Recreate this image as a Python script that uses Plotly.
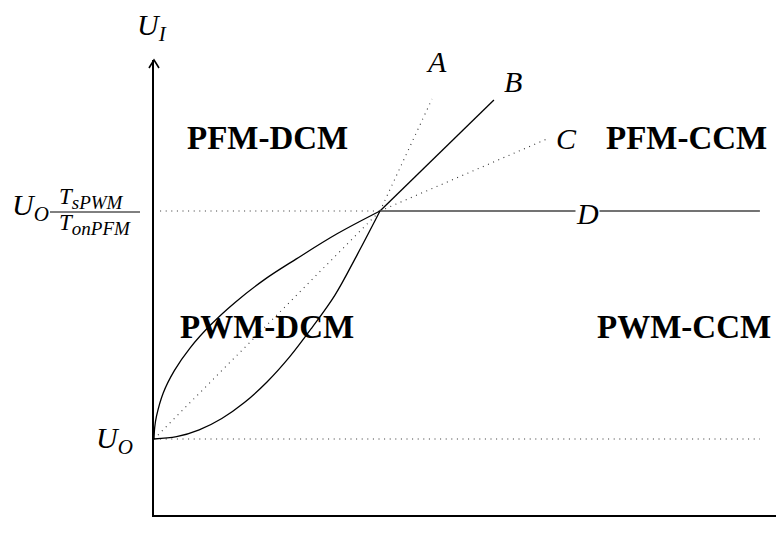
import plotly.graph_objects as go

# Operating-mode boundaries in the (duty / load, U_I) plane.
# x is normalised so the common crossing point sits at x = 1;
# y is normalised so U_O = 1 and U_O * T_sPWM / T_onPFM = 2.
U_O_LEVEL = 1.0
U_MID_LEVEL = 2.0
CROSS_X = 1.0

# PWM-DCM upper boundary (root-like rise from U_O)
upper_x = [0.0, 0.003, 0.011, 0.04, 0.09, 0.16, 0.25, 0.36, 0.49, 0.63, 0.81, 1.0]
upper_y = [1.0, 1.05, 1.10, 1.20, 1.30, 1.40, 1.50, 1.60, 1.70, 1.79, 1.90, 2.0]

# PWM-DCM lower boundary (square-like rise from U_O)
lower_x = [0.0, 0.1, 0.2, 0.3, 0.4, 0.5, 0.6, 0.7, 0.8, 0.9, 1.0]
lower_y = [1.0, 1.01, 1.04, 1.09, 1.16, 1.25, 1.36, 1.49, 1.63, 1.81, 2.0]

# straight rays leaving the crossing point: end points
ray_A = (1.23, 2.491)
ray_B = (1.504, 2.487)
ray_C = (1.739, 2.316)
ray_D_end = 2.681
diag_start = (0.0, 1.0)
guide_start_x = 0.027

X_RANGE = [0.0, 2.7522]
Y_RANGE = [0.66667, 2.66228]

SERIF = "Liberation Serif"
INK = "black"
DOT = dict(color="#333333", width=1.1, dash="1px,4.6px")
SOLID = dict(color=INK, width=1.3)

fig = go.Figure()

def seg(xs, ys, line, shape="linear"):
    fig.add_trace(go.Scatter(x=xs, y=ys, mode="lines", line=dict(shape=shape, **line),
                             hoverinfo="skip", showlegend=False, cliponaxis=False))

# dotted guides
seg([guide_start_x, CROSS_X], [U_MID_LEVEL, U_MID_LEVEL], DOT)
seg([guide_start_x, ray_D_end], [U_O_LEVEL, U_O_LEVEL], DOT)
seg([diag_start[0], CROSS_X], [diag_start[1], U_MID_LEVEL], DOT)
seg([CROSS_X, ray_A[0]], [U_MID_LEVEL, ray_A[1]], DOT)
seg([CROSS_X, ray_C[0]], [U_MID_LEVEL, ray_C[1]], DOT)

# solid boundaries
seg(upper_x, upper_y, dict(SOLID, smoothing=1.0), shape="spline")
seg(lower_x, lower_y, dict(SOLID, smoothing=1.0), shape="spline")
seg([CROSS_X, ray_B[0]], [U_MID_LEVEL, ray_B[1]], SOLID)
seg([CROSS_X, ray_D_end], [U_MID_LEVEL, U_MID_LEVEL], dict(color="#444444", width=1.5))

def label(x, y, text, size=30, xanchor="center", bg=None, ref="x"):
    fig.add_annotation(x=x, y=y, xref="x" if ref == "x" else "paper",
                       yref="y" if ref == "x" else "paper",
                       text=text, showarrow=False,
                       xanchor=xanchor, yanchor="middle",
                       font=dict(family=SERIF, size=size, color=INK),
                       bgcolor=bg, borderpad=0)

# region names
label(0.5, 2.320, "<b>PFM-DCM</b>", size=33)
label(2.354, 2.320, "<b>PFM-CCM</b>", size=33)
label(0.5, 1.491, "<b>PWM-DCM</b>", size=33)
label(2.345, 1.491, "<b>PWM-CCM</b>", size=33)

# ray names
label(1.252, 2.654, "<i>A</i>")
label(1.588, 2.566, "<i>B</i>")
label(1.827, 2.320, "<i>C</i>")
label(1.916, 1.991, "<i>D</i>", bg="white")

# axis labels (paper coordinates, outside the plotting area)
SUB = '<sub><i><span style="font-size:19px">{}</span></i></sub>'
label(-0.0032, 1.0725, "<i>U</i><sub><i>I</i></sub>", ref="paper")
label(-0.0949, 0.1648, "<i>U</i><sub><i>O</i></sub>", xanchor="left", ref="paper")
label(-0.2299, 0.677, "<i>U</i><sub><i>O</i></sub>", xanchor="left", ref="paper")
label(-0.0997, 0.6965, "<i>T</i>" + SUB.format("sPWM"), size=23, ref="paper")
label(-0.0949, 0.6376, "<i>T</i>" + SUB.format("onPFM"), size=23, ref="paper")

PLOT_W, PLOT_H = 622, 455
# fraction bar and arrow head on the U_I axis (paper coordinates)
fig.add_shape(type="line", xref="paper", yref="paper",
              x0=-104 / PLOT_W, x1=-14 / PLOT_W, y0=303 / PLOT_H, y1=303 / PLOT_H,
              line=dict(color=INK, width=1))
fig.add_shape(type="path", xref="paper", yref="paper",
              path=f"M {-5/PLOT_W} {1-8/PLOT_H} Q {-2/PLOT_W} {1-3/PLOT_H} 0 1 "
                   f"Q {2/PLOT_W} {1-3/PLOT_H} {5/PLOT_W} {1-8/PLOT_H}",
              line=dict(color=INK, width=1.6))

axis_common = dict(showgrid=False, zeroline=False, showticklabels=False, ticks="",
                   showline=True, linecolor=INK, linewidth=2, fixedrange=True)
fig.update_layout(
    width=776, height=533,
    margin=dict(l=154, r=0, t=60, b=18),
    paper_bgcolor="white", plot_bgcolor="white",
    xaxis=dict(range=X_RANGE, **axis_common),
    yaxis=dict(range=Y_RANGE, **axis_common),
    showlegend=False,
)

fig.write_html("out.html")
